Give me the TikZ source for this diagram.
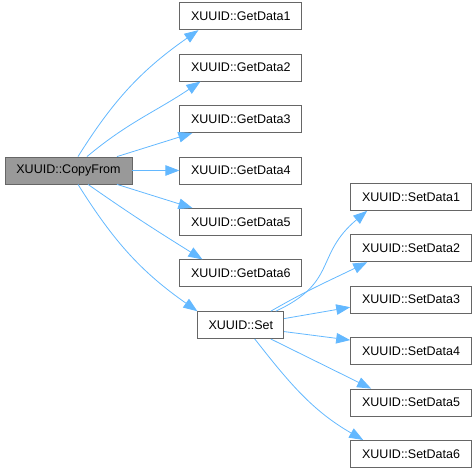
\documentclass[tikz,border=0pt]{standalone}
\usepackage{fontspec}
\setsansfont{Liberation Sans}
\usepackage{tikz}
\usetikzlibrary{arrows.meta,positioning}
\definecolor{callblue}{HTML}{63B8FF}
\definecolor{callgray}{HTML}{999999}
\definecolor{callframe}{HTML}{666666}
\tikzset{
  call-func/.style={draw=callframe, fill=white, line width=0.8pt, inner sep=0pt,
    minimum height=27pt, font=\sffamily\fontsize{12.5pt}{14pt}\selectfont},
  call-root/.style={call-func, fill=callgray},
  call-edge/.style={draw=callblue, line width=0.8pt, -{Triangle[length=14pt, width=10.5pt]}}
}
\begin{document}
\begin{tikzpicture}[node distance=23.6pt and 47pt]
  \useasboundingbox (0,0) rectangle (475pt,468pt);
  % caller on the left
  \node[call-root, minimum width=127pt] (copyfrom) at (68.5pt,297.5pt) {XUUID::CopyFrom};
  % getters
  \node[call-func, minimum width=122pt, right=of copyfrom] (getdata4) {XUUID::GetData4};
  \node[call-func, minimum width=122pt, above=of getdata4] (getdata3) {XUUID::GetData3};
  \node[call-func, minimum width=122pt, above=of getdata3] (getdata2) {XUUID::GetData2};
  \node[call-func, minimum width=122pt, above=of getdata2] (getdata1) {XUUID::GetData1};
  \node[call-func, minimum width=122pt, below=of getdata4] (getdata5) {XUUID::GetData5};
  \node[call-func, minimum width=122pt, below=of getdata5] (getdata6) {XUUID::GetData6};
  \node[call-func, minimum width=86pt, below=24pt of getdata6] (set) {XUUID::Set};
  % setters
  \node[call-func, minimum width=121pt, above right=11.5pt and 66pt of set.east] (setdata3) {XUUID::SetData3};
  \node[call-func, minimum width=121pt, above=of setdata3] (setdata2) {XUUID::SetData2};
  \node[call-func, minimum width=121pt, above=of setdata2] (setdata1) {XUUID::SetData1};
  \node[call-func, minimum width=121pt, below=of setdata3] (setdata4) {XUUID::SetData4};
  \node[call-func, minimum width=121pt, below=of setdata4] (setdata5) {XUUID::SetData5};
  \node[call-func, minimum width=121pt, below=of setdata5] (setdata6) {XUUID::SetData6};
  % calls from CopyFrom
  \draw[call-edge] ([xshift=9.5pt]copyfrom.north) to[out=58, in=215] ([xshift=19pt]getdata1.south west);
  \draw[call-edge] ([xshift=18.5pt]copyfrom.north) to[out=40, in=214] ([xshift=21pt]getdata2.south west);
  \draw[call-edge] ([xshift=48.5pt]copyfrom.north) -- ([xshift=13pt]getdata3.south west);
  \draw[call-edge] (copyfrom.east) -- (getdata4.west);
  \draw[call-edge] ([xshift=48.5pt]copyfrom.south) -- ([xshift=13pt]getdata5.north west);
  \draw[call-edge] ([xshift=19.5pt]copyfrom.south) to[out=-35, in=148] ([xshift=23pt]getdata6.north west);
  \draw[call-edge] ([xshift=9.5pt]copyfrom.south) to[out=-58, in=145] (set.north west);
  % calls from Set
  \draw[call-edge] ([xshift=35pt]set.north) to[out=25, in=220, looseness=1.3] ([xshift=17pt]setdata1.south west);
  \draw[call-edge] ([xshift=30pt]set.north) to[out=30, in=206] ([xshift=17pt]setdata2.south west);
  \draw[call-edge] ([yshift=6.5pt]set.east) -- ([yshift=-7.5pt]setdata3.west);
  \draw[call-edge] ([yshift=-6.5pt]set.east) -- ([yshift=11pt]setdata4.west);
  \draw[call-edge] ([xshift=30pt]set.south) -- ([xshift=21pt]setdata5.north west);
  \draw[call-edge] ([xshift=14pt]set.south) to[out=-52, in=150] ([xshift=13pt]setdata6.north west);
\end{tikzpicture}
\end{document}
